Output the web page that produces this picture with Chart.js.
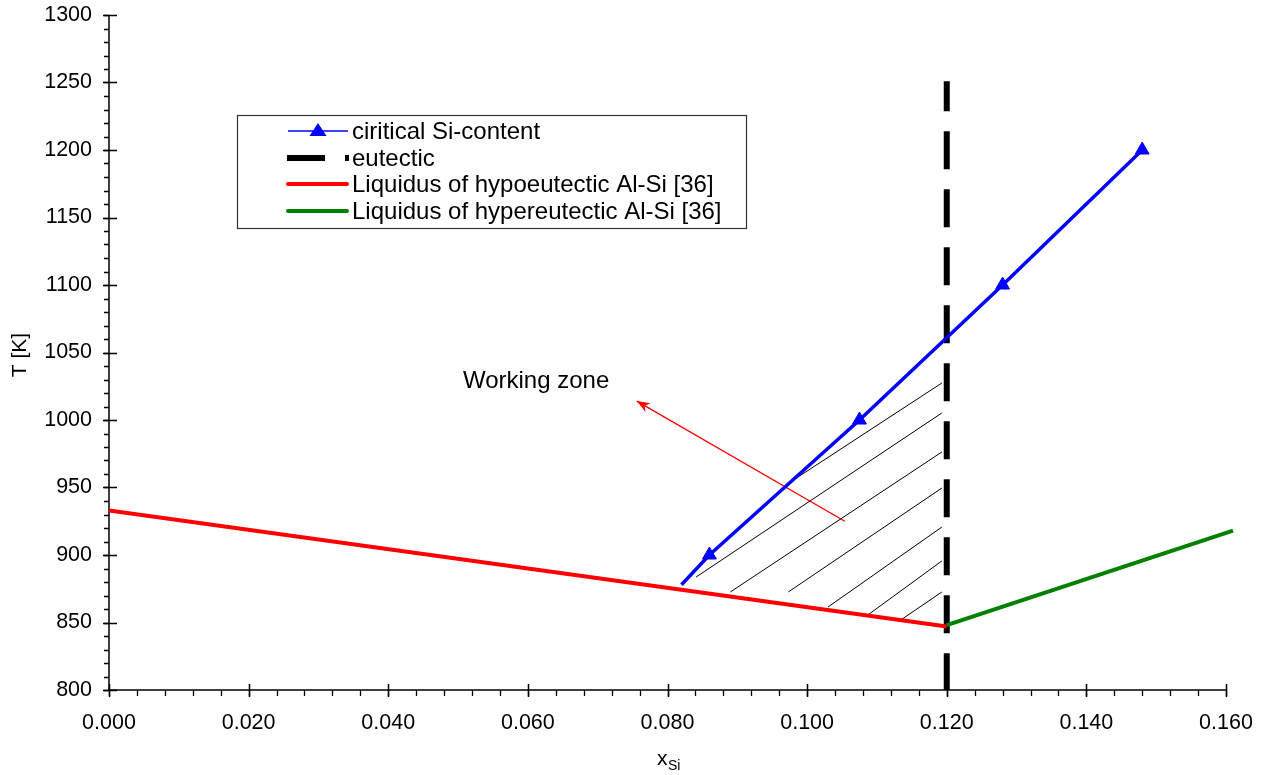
<!DOCTYPE html>
<html>
<head>
<meta charset="utf-8">
<script src="https://cdn.jsdelivr.net/npm/chart.js@4.4.1/dist/chart.umd.min.js"></script>
<style>
  html, body { margin: 0; padding: 0; background: #fff; }
  #wrap { width: 1268px; height: 775px; }
</style>
</head>
<body>
<div id="wrap"><canvas id="chart" width="1268" height="775"></canvas></div>
<script>
const FONT = "'Liberation Sans', Arial, sans-serif";

// values
const critX = [0.082, 0.086, 0.1075, 0.128, 0.148];
const critT = [878, 900, 1000, 1100, 1200];
const eutX = [0.120, 0.120];
const eutT = [1251, 800];
const hypoX = [0.000, 0.120];
const hypoT = [933, 847];
const hyperX = [0.120, 0.161];
const hyperT = [848, 918];

// hatch segments of the working zone (start / end)
const hatchX0 = [0.0987, 0.0841, 0.0890, 0.0973, 0.1030, 0.1087, 0.1132];
const hatchT0 = [957.8, 883.7, 872.6, 872.6, 861.5, 855.6, 851.1];
const hatchX1 = [0.1193, 0.1193, 0.1193, 0.1193, 0.1193, 0.1193, 0.1193];
const hatchT1 = [1027.4, 1005.2, 976.3, 949.6, 920.7, 895.6, 872.6];

// annotation arrow and its note
const arrowX = [0.1054, 0.0756];
const arrowT = [925, 1014];
const noteX = 0.0507;
const noteT = 1023.7;
const noteText = "Working zone";

const xTicks = [0, 0.02, 0.04, 0.06, 0.08, 0.10, 0.12, 0.14, 0.16];
const yTicks = [800, 850, 900, 950, 1000, 1050, 1100, 1150, 1200, 1250, 1300];
const xMinorStep = 0.004;
const yMinorStep = 10;

const legendLabels = [
  "ciritical Si-content",
  "eutectic",
  "Liquidus of hypoeutectic Al-Si [36]",
  "Liquidus of hypereutectic Al-Si [36]"
];

function pts(xs, ys) {
  return xs.map((x, i) => ({ x: x, y: ys[i] }));
}

const datasets = [
  {
    label: legendLabels[0],
    data: pts(critX, critT),
    borderColor: "#0000ff",
    backgroundColor: "#0000ff",
    borderWidth: 3.5,
    pointStyle: "triangle",
    pointRadius: critX.map((x, i) => (i === 0 ? 0 : 8)),
    pointBorderWidth: 1,
    order: 0
  },
  {
    label: legendLabels[3],
    data: pts(hyperX, hyperT),
    borderColor: "#008000",
    borderWidth: 4,
    pointRadius: 0,
    clip: false,
    order: 1
  },
  {
    label: legendLabels[2],
    data: pts(hypoX, hypoT),
    borderColor: "#ff0000",
    borderWidth: 4,
    pointRadius: 0,
    order: 2
  },
  {
    label: legendLabels[1],
    data: pts(eutX, eutT),
    borderColor: "#000000",
    borderWidth: 6,
    borderDash: [38, 20],
    borderDashOffset: 8,
    borderCapStyle: "butt",
    pointRadius: 0,
    order: 3
  },
  {
    label: "arrow",
    data: pts(arrowX, arrowT),
    borderColor: "#ff0000",
    borderWidth: 1.3,
    pointRadius: 0,
    order: 5
  }
];

hatchX0.forEach((x, i) => {
  datasets.push({
    label: "hatch",
    data: [{ x: x, y: hatchT0[i] }, { x: hatchX1[i], y: hatchT1[i] }],
    borderColor: "#000000",
    borderWidth: 1,
    pointRadius: 0,
    order: 4
  });
});

// axes lines with major and minor ticks
const axesPlugin = {
  id: "axes",
  beforeDatasetsDraw(chart) {
    const ctx = chart.ctx;
    const a = chart.chartArea;
    const xs = chart.scales.x, ys = chart.scales.y;
    ctx.save();
    ctx.strokeStyle = "#000";
    ctx.lineWidth = 1.5;
    ctx.beginPath();
    ctx.moveTo(a.left, a.top);
    ctx.lineTo(a.left, a.bottom);
    ctx.lineTo(a.right, a.bottom);
    ctx.stroke();

    ctx.lineWidth = 1.3;
    ctx.beginPath();
    for (let v = xs.min; v <= xs.max + 1e-9; v += xMinorStep) {
      const px = Math.round(xs.getPixelForValue(v)) + 0.5;
      ctx.moveTo(px, a.bottom);
      ctx.lineTo(px, a.bottom + 6);
    }
    for (let v = ys.min; v <= ys.max + 1e-9; v += yMinorStep) {
      const py = Math.round(ys.getPixelForValue(v)) + 0.5;
      ctx.moveTo(a.left, py);
      ctx.lineTo(a.left - 5, py);
    }
    ctx.stroke();

    ctx.lineWidth = 1.5;
    ctx.beginPath();
    xTicks.forEach(v => {
      const px = Math.round(xs.getPixelForValue(v)) + 0.5;
      ctx.moveTo(px, a.bottom - 6);
      ctx.lineTo(px, a.bottom + 7);
    });
    yTicks.forEach(v => {
      const py = Math.round(ys.getPixelForValue(v)) + 0.5;
      ctx.moveTo(a.left - 6, py);
      ctx.lineTo(a.left + 8, py);
    });
    ctx.stroke();
    ctx.restore();
  }
};

// arrowhead, note text, axis titles and legend box
const extrasPlugin = {
  id: "extras",
  afterDatasetsDraw(chart) {
    const ctx = chart.ctx;
    const xs = chart.scales.x, ys = chart.scales.y;
    ctx.save();

    // arrowhead
    const x0 = xs.getPixelForValue(arrowX[0]), y0 = ys.getPixelForValue(arrowT[0]);
    const x1 = xs.getPixelForValue(arrowX[1]), y1 = ys.getPixelForValue(arrowT[1]);
    const ang = Math.atan2(y1 - y0, x1 - x0);
    const len = 13, half = 5;
    ctx.fillStyle = "#ff0000";
    ctx.translate(x1, y1);
    ctx.rotate(ang);
    ctx.beginPath();
    ctx.moveTo(0, 0);
    ctx.lineTo(-len, -half);
    ctx.lineTo(-len * 0.7, 0);
    ctx.lineTo(-len, half);
    ctx.closePath();
    ctx.fill();
    ctx.setTransform(1, 0, 0, 1, 0, 0);

    // note
    ctx.fillStyle = "#000";
    ctx.font = "24px " + FONT;
    ctx.textAlign = "left";
    ctx.textBaseline = "alphabetic";
    ctx.fillText(noteText, xs.getPixelForValue(noteX), ys.getPixelForValue(noteT));

    // y title
    ctx.save();
    ctx.translate(26, 355);
    ctx.rotate(-Math.PI / 2);
    ctx.textAlign = "center";
    ctx.font = "21px " + FONT;
    ctx.fillText("T [K]", 0, 0);
    ctx.restore();

    // x title with subscript
    ctx.font = "21px " + FONT;
    ctx.fillText("x", 657, 765);
    ctx.font = "14px " + FONT;
    ctx.fillText("Si", 668, 770);

    // legend
    const lx = 237, ly = 115, lw = 509, lh = 113;
    ctx.fillStyle = "#fff";
    ctx.fillRect(lx, ly, lw, lh);
    ctx.strokeStyle = "#333";
    ctx.lineWidth = 1.2;
    ctx.strokeRect(lx + 0.5, ly + 0.5, lw, lh);

    const rows = [131, 158, 184, 211];
    const s0 = 288, s1 = 348, tx = 352;

    // blue
    ctx.strokeStyle = "#0000ff";
    ctx.lineWidth = 1.5;
    ctx.beginPath();
    ctx.moveTo(s0, rows[0]);
    ctx.lineTo(s1, rows[0]);
    ctx.stroke();
    ctx.fillStyle = "#0000ff";
    ctx.beginPath();
    ctx.moveTo(318, rows[0] - 8);
    ctx.lineTo(326.5, rows[0] + 5);
    ctx.lineTo(309.5, rows[0] + 5);
    ctx.closePath();
    ctx.fill();

    // eutectic
    ctx.strokeStyle = "#000";
    ctx.lineWidth = 6;
    ctx.setLineDash([38, 20]);
    ctx.beginPath();
    ctx.moveTo(287, rows[1]);
    ctx.lineTo(349, rows[1]);
    ctx.stroke();
    ctx.setLineDash([]);

    // red / green
    ctx.lineCap = "round";
    ctx.lineWidth = 4;
    ctx.strokeStyle = "#ff0000";
    ctx.beginPath();
    ctx.moveTo(s0, rows[2]);
    ctx.lineTo(s1 - 1, rows[2]);
    ctx.stroke();
    ctx.strokeStyle = "#008000";
    ctx.beginPath();
    ctx.moveTo(s0, rows[3]);
    ctx.lineTo(s1 - 1, rows[3]);
    ctx.stroke();

    ctx.fillStyle = "#000";
    ctx.font = "24px " + FONT;
    ctx.textBaseline = "middle";
    legendLabels.forEach((t, i) => {
      ctx.fillText(t, tx, rows[i] + 1);
    });

    ctx.restore();
  }
};

new Chart(document.getElementById("chart"), {
  type: "line",
  data: { datasets: datasets },
  options: {
    responsive: false,
    animation: false,
    events: [],
    layout: { autoPadding: false, padding: { top: 15, right: 42, left: 0, bottom: 0 } },
    plugins: {
      legend: { display: false },
      tooltip: { enabled: false }
    },
    scales: {
      x: {
        type: "linear",
        min: 0,
        max: 0.16,
        afterBuildTicks: s => { s.ticks = xTicks.map(v => ({ value: v })); },
        afterFit: s => { s.height = 85; s.paddingLeft = 0; s.paddingRight = 0; },
        grid: { display: false, drawTicks: false },
        border: { display: false },
        ticks: {
          color: "#000",
          font: { family: FONT, size: 21.5 },
          padding: 20,
          maxRotation: 0,
          callback: v => v.toFixed(3)
        }
      },
      y: {
        type: "linear",
        min: 800,
        max: 1300,
        afterBuildTicks: s => { s.ticks = yTicks.map(v => ({ value: v })); },
        afterFit: s => { s.width = 109; s.paddingTop = 0; s.paddingBottom = 0; },
        grid: { display: false, drawTicks: false },
        border: { display: false },
        ticks: {
          color: "#000",
          font: { family: FONT, size: 21.5 },
          padding: 17,
          callback: v => String(v)
        }
      }
    }
  },
  plugins: [axesPlugin, extrasPlugin]
});
</script>
</body>
</html>
